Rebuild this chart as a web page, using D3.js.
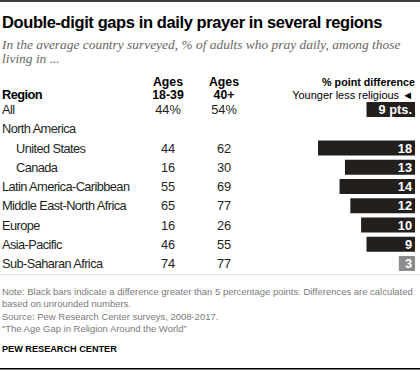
<!DOCTYPE html>
<html>
<head>
<meta charset="utf-8">
<script src="https://cdn.jsdelivr.net/npm/d3@7"></script>
<style>
  body { margin: 0; background: #fff; }
  svg { display: block; }
  text { font-family: "Liberation Sans Narrow", "Liberation Sans", Arial, sans-serif; }
  text.serif { font-family: "Liberation Serif", Georgia, serif; }
</style>
</head>
<body>
<svg id="chart" width="420" height="371"></svg>
<script>
const regions = ["All", "North America", "United States", "Canada", "Latin America-Caribbean",
    "Middle East-North Africa", "Europe", "Asia-Pacific", "Sub-Saharan Africa"];
const indented = ["United States", "Canada"];
const younger = [44, null, 44, 16, 55, 65, 16, 46, 74];
const older = [54, null, 62, 30, 69, 77, 26, 55, 77];
const gap = [9, null, 18, 13, 14, 12, 10, 9, 3];

const noteLines = [
    "Note: Black bars indicate a difference greater than 5 percentage points. Differences are calculated",
    "based on unrounded numbers.",
    "Source: Pew Research Center surveys, 2008-2017.",
    "\u201CThe Age Gap in Religion Around the World\u201D"
];

const W = 420, H = 371;
const dark = "#231f1c";

const svg = d3.select("#chart");

// tighten letter spacing so a text's width matches the reference
function spacingFor(txt, size, weight, target) {
    const t = svg.append("text").attr("font-size", size)
        .attr("font-weight", weight || "normal").text(txt);
    const w = t.node().getComputedTextLength();
    t.remove();
    return (target - w) / txt.length;
}

function fit(sel, target) {
    const fs = parseFloat(sel.attr("font-size"));
    const w = sel.node().getComputedTextLength();
    sel.attr("font-size", fs * target / w);
}

const rowSize = 12.8;
const rowSpacing = spacingFor("Middle East-North Africa", rowSize, "normal", 124);
const headSize = 12.3;

const rows = regions.map((r, i) => ({
    region: r, young: younger[i], old: older[i], gap: gap[i], i: i
}));

// rules top and bottom
svg.append("line").attr("x1", 0).attr("x2", W).attr("y1", 1).attr("y2", 1)
    .attr("stroke", "#000").attr("stroke-width", 1.5);
svg.append("line").attr("x1", 0).attr("x2", W).attr("y1", 368.75).attr("y2", 368.75)
    .attr("stroke", "#000").attr("stroke-width", 1.5);

// title + subtitle
const titleText = "Double-digit gaps in daily prayer in several regions";
svg.append("text").attr("x", 2).attr("y", 27.5)
    .attr("font-size", 16.5).attr("font-weight", "bold").attr("fill", "#000")
    .attr("letter-spacing", spacingFor(titleText, 16.5, "bold", 380))
    .text(titleText);

const sub = svg.append("text").attr("class", "serif")
    .attr("font-style", "italic").attr("font-size", 14).attr("fill", "#666");
const sub1 = sub.append("tspan").attr("x", 2).attr("y", 49)
    .text("In the average country surveyed, % of adults who pray daily, among those");
sub.append("tspan").attr("x", 2).attr("y", 63).text("living in ...");
{
    const w = sub1.node().getComputedTextLength();
    sub.attr("font-size", 14 * 399 / w);
}

// column headers
const colYoung = 168, colOld = 224, barRight = 415;

svg.append("text").attr("x", 2).attr("y", 98.5)
    .attr("font-size", rowSize).attr("font-weight", "bold").attr("fill", "#000")
    .attr("letter-spacing", rowSpacing).text("Region");

[[colYoung, "18-39"], [colOld, "40+"]].forEach(([x, lab]) => {
    svg.append("text").attr("x", x).attr("y", 85.5).attr("text-anchor", "middle")
        .attr("font-size", headSize).attr("font-weight", "bold").attr("fill", "#000")
        .text("Ages");
    svg.append("text").attr("x", x).attr("y", 98.5).attr("text-anchor", "middle")
        .attr("font-size", headSize).attr("font-weight", "bold").attr("fill", "#000")
        .text(lab);
});

const h1 = svg.append("text").attr("x", barRight).attr("y", 86).attr("text-anchor", "end")
    .attr("font-size", 13).attr("font-weight", "bold").attr("fill", "#000")
    .text("% point difference");
fit(h1, 93);
const h2 = svg.append("text").attr("x", barRight - 2).attr("y", 98.5).attr("text-anchor", "end")
    .attr("font-size", 13).attr("fill", "#000")
    .text("Younger less religious \u25C4");
fit(h2, 121);

// row positions
const y = d3.scaleBand()
    .domain(regions)
    .range([100, 100 + 19.25 * regions.length]);

const x = d3.scaleLinear().domain([0, 18]).range([barRight, 318]);

const row = svg.append("g").selectAll("g")
    .data(rows)
    .enter()
    .append("g")
    .attr("transform", d => `translate(0,${y(d.region)})`);

row.append("text")
    .attr("x", d => indented.includes(d.region) ? 16 : 2)
    .attr("y", 14)
    .attr("font-size", rowSize)
    .attr("letter-spacing", rowSpacing)
    .attr("fill", dark)
    .text(d => d.region);

row.filter(d => d.young != null).append("text")
    .attr("x", colYoung).attr("y", 14).attr("text-anchor", "middle")
    .attr("font-size", rowSize).attr("fill", dark)
    .text(d => d.i === 0 ? d.young + "%" : d.young);

row.filter(d => d.old != null).append("text")
    .attr("x", colOld).attr("y", 14).attr("text-anchor", "middle")
    .attr("font-size", rowSize).attr("fill", dark)
    .text(d => d.i === 0 ? d.old + "%" : d.old);

const bars = row.filter(d => d.gap != null);

bars.append("rect")
    .attr("x", d => x(d.gap))
    .attr("y", 2)
    .attr("width", d => barRight - x(d.gap))
    .attr("height", 15)
    .attr("fill", d => d.gap > 5 ? dark : "#8c8c8c");

bars.append("text")
    .attr("x", barRight - 3).attr("y", 14).attr("text-anchor", "end")
    .attr("font-size", rowSize).attr("font-weight", "bold").attr("fill", "#fff")
    .text(d => d.i === 0 ? d.gap + " pts." : d.gap);

// divider under table
svg.append("line").attr("x1", 0).attr("x2", W).attr("y1", 274.5).attr("y2", 274.5)
    .attr("stroke", "#e2e2e2").attr("stroke-width", 1);

// notes
const noteText = svg.append("g").selectAll("text")
    .data(noteLines)
    .enter()
    .append("text")
    .attr("x", 2)
    .attr("y", (d, i) => 294.5 + i * 12.5)
    .attr("font-size", 11)
    .attr("fill", "#7a7a7a")
    .text(d => d);
const noteSize = 11 * 411 / noteText.node().getComputedTextLength();
noteText.attr("font-size", noteSize);

const pew = svg.append("text").attr("x", 2).attr("y", 352)
    .attr("font-size", 11).attr("font-weight", "bold").attr("fill", "#000")
    .text("PEW RESEARCH CENTER");
fit(pew, 115);
</script>
</body>
</html>
